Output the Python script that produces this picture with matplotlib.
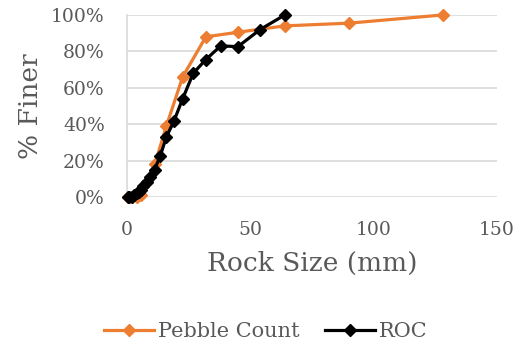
import matplotlib
matplotlib.use('Agg')
import matplotlib.pyplot as plt
from matplotlib.ticker import FuncFormatter

GREY = '#595959'
GRID = '#d9d9d9'
ORANGE = '#ED7D31'

plt.rcParams.update({
    'font.family': ['DejaVu Serif'],
    'text.color': GREY,
    'axes.labelcolor': GREY,
    'xtick.color': GREY,
    'ytick.color': GREY,
})

# Pebble count (size mm, fraction finer)
pebble_size = [0.5, 1, 2, 4, 5.7, 8, 11.3, 16, 22.6, 32, 45, 64, 90, 128]
pebble_finer = [0.0, 0.0, 0.0, 0.0, 0.01, 0.08, 0.18, 0.39, 0.66, 0.88, 0.905, 0.94, 0.955, 1.0]

# ROC gradation
roc_size = [0.5, 1, 2, 2.8, 4, 4.75, 5.6, 6.7, 8, 9.5, 11.2, 13.5, 16, 19, 22.6,
            26.9, 32, 38, 45, 54, 64]
roc_finer = [0.0, 0.0, 0.0, 0.01, 0.02, 0.03, 0.04, 0.06, 0.08, 0.11, 0.15, 0.225,
             0.33, 0.415, 0.54, 0.68, 0.755, 0.83, 0.826, 0.92, 1.0]

fig = plt.figure(figsize=(5.31, 3.48), dpi=100)
ax = fig.add_axes([0.239, 0.434, 0.697, 0.523])

ax.plot(pebble_size, pebble_finer, color=ORANGE, lw=2.3, marker='D', ms=6.5,
        label='Pebble Count', zorder=3, clip_on=False)
ax.plot(roc_size, roc_finer, color='black', lw=2.3, marker='D', ms=6.5,
        label='ROC', zorder=4, clip_on=False)

ax.set_xlim(0, 150)
ax.set_ylim(0, 1)
ax.set_xticks([0, 50, 100, 150])
ax.set_yticks([0, 0.2, 0.4, 0.6, 0.8, 1.0])
ax.yaxis.set_major_formatter(FuncFormatter(lambda v, p: f'{v * 100:.0f}%'))
ax.grid(axis='y', color=GRID, lw=1.2)
ax.set_axisbelow(True)
for s in ['top', 'right', 'bottom']:
    ax.spines[s].set_visible(False)
ax.spines['left'].set_color(GRID)
ax.spines['left'].set_linewidth(1.2)
ax.tick_params(axis='both', length=0, labelsize=13.5)
ax.tick_params(axis='x', pad=17)
ax.tick_params(axis='y', pad=16)

ax.set_xlabel('Rock Size (mm)', fontsize=19, labelpad=9)
ax.set_ylabel('% Finer', fontsize=19, labelpad=6)

fig.legend(loc='center', bbox_to_anchor=(0.5, 0.046), ncol=2, frameon=False,
           fontsize=15, handlelength=2.4, columnspacing=1.2, handletextpad=0.2)

fig.savefig('out.png', dpi=100, facecolor='white')
